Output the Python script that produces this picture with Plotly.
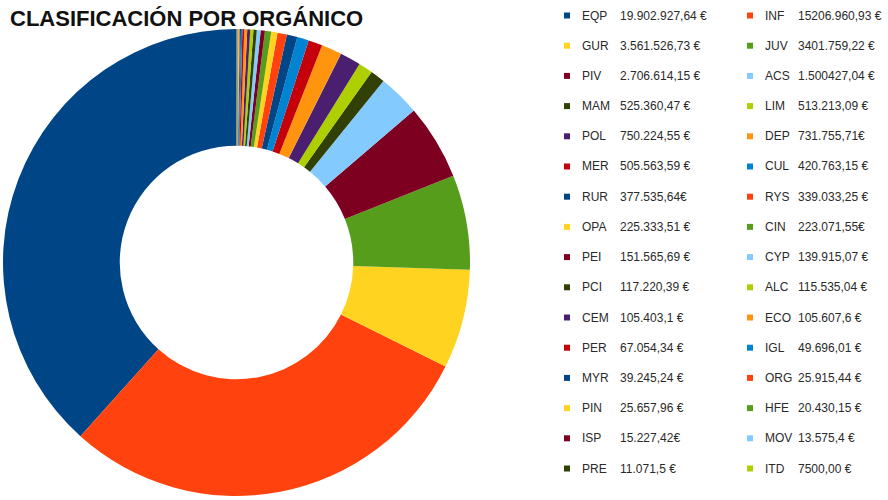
import plotly.graph_objects as go

labels = ["EQP", "INF", "GUR", "JUV", "PIV", "ACS", "MAM", "LIM",
          "POL", "DEP", "MER", "CUL", "RUR", "RYS", "OPA", "CIN",
          "PEI", "CYP", "PCI", "ALC", "CEM", "ECO", "PER", "IGL",
          "MYR", "ORG", "PIN", "HFE", "ISP", "MOV", "PRE", "ITD"]

values = [19902927.64, 15206960.93, 3561526.73, 3401759.22, 2706614.15, 1500427.04,
          525360.47, 513213.09, 750224.55, 731755.71, 505563.59, 420763.15,
          377535.64, 339033.25, 225333.51, 223071.55, 151565.69, 139915.07,
          117220.39, 115535.04, 105403.10, 105607.60, 67054.34, 49696.01,
          39245.24, 25915.44, 25657.96, 20430.15, 15227.42, 13575.40,
          11071.50, 7500.00]

value_text = ["19.902.927,64 €", "15206.960,93 €", "3.561.526,73 €", "3401.759,22 €",
              "2.706.614,15 €", "1.500427,04 €", "525.360,47 €", "513.213,09 €",
              "750.224,55 €", "731.755,71€", "505.563,59 €", "420.763,15 €",
              "377.535,64€", "339.033,25 €", "225.333,51 €", "223.071,55€",
              "151.565,69 €", "139.915,07 €", "117.220,39 €", "115.535,04 €",
              "105.403,1 €", "105.607,6 €", "67.054,34 €", "49.696,01 €",
              "39.245,24 €", "25.915,44 €", "25.657,96 €", "20.430,15 €",
              "15.227,42€", "13.575,4 €", "11.071,5 €", "7500,00 €"]

palette = ["#004586", "#ff420e", "#ffd320", "#579d1c", "#7e0021", "#83caff",
           "#314004", "#aecf00", "#4b1f6f", "#ff950e", "#c5000b", "#0084d1"]
colors = [palette[i % len(palette)] for i in range(len(labels))]

W, H = 888, 500
# Plotly's counterclockwise pies end the first slice at the rotation angle;
# shift so the first slice starts at 12 o'clock like the reference.
first_share = values[0] / sum(values) * 360.0

fig = go.Figure(go.Pie(
    labels=labels, values=values, sort=False, direction="counterclockwise",
    rotation=-first_share, hole=0.5, textinfo="none",
    hoverinfo="label+value+percent",
    marker=dict(colors=colors, line=dict(width=0)),
    domain=dict(x=[3 / W, 470 / W], y=[4 / H, 471 / H]),
    showlegend=False,
))

shapes = []
annotations = []
font = dict(family="Liberation Sans, Arial, sans-serif", size=12, color="#2a2a2a")
for i, (lab, vt, col) in enumerate(zip(labels, value_text, colors)):
    c, r = i % 2, i // 2
    yc = 15.5 + r * 30.2
    sx = 564 if c == 0 else 747
    lx = 580 if c == 0 else 763
    vx = 618 if c == 0 else 796
    shapes.append(dict(type="rect", xref="paper", yref="paper",
                       x0=sx / W, x1=(sx + 6) / W,
                       y0=1 - (yc + 3) / H, y1=1 - (yc - 3) / H,
                       fillcolor=col, line=dict(width=0)))
    annotations.append(dict(text=lab, x=lx / W, y=1 - yc / H, xref="paper", yref="paper",
                            xanchor="left", yanchor="middle", showarrow=False, font=font))
    annotations.append(dict(text=vt, x=vx / W, y=1 - yc / H, xref="paper", yref="paper",
                            xanchor="left", yanchor="middle", showarrow=False, font=font))

annotations.append(dict(text="<b>CLASIFICACIÓN POR ORGÁNICO</b>", x=8 / W, y=1 - 18 / H,
                        xref="paper", yref="paper", xanchor="left", yanchor="middle",
                        showarrow=False,
                        font=dict(family="Liberation Sans, Arial, sans-serif", size=22,
                                  color="#111111")))

fig.update_layout(width=W, height=H, margin=dict(l=0, r=0, t=0, b=0),
                  paper_bgcolor="white", plot_bgcolor="white",
                  shapes=shapes, annotations=annotations)

fig.write_html("out.html", config={"displayModeBar": False},
               post_script="document.body.style.margin='0';")
